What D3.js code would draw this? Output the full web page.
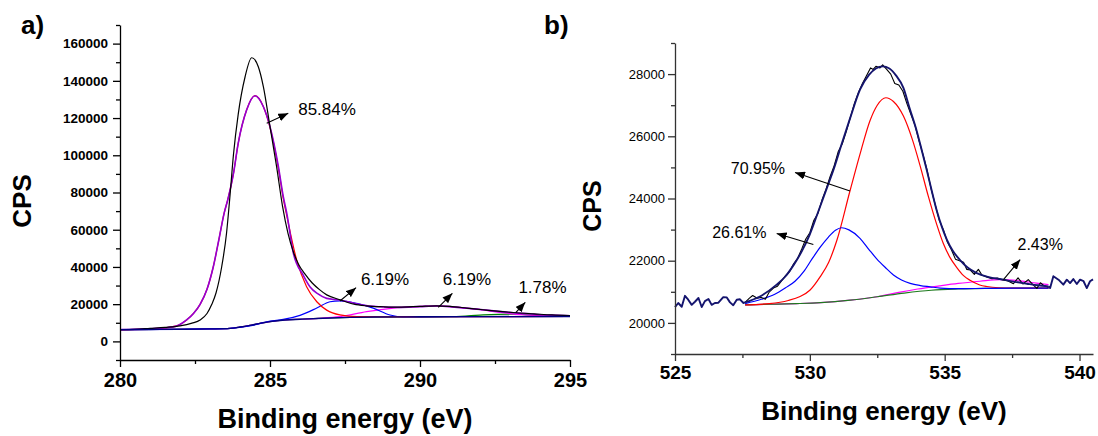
<!DOCTYPE html>
<html>
<head>
<meta charset="utf-8">
<script src="https://cdn.jsdelivr.net/npm/d3@7"></script>
<style>
  body { margin: 0; background: #fff; }
  svg { display: block; }
  text { font-family: "Liberation Sans", Arial, Helvetica, sans-serif; fill: #000; }
</style>
</head>
<body>
<svg id="chart" width="1098" height="436"></svg>
<script>
// ---------- a) C 1s region : [binding energy (eV), CPS] ----------
const c1sMeasured = [
  [280.0,6300],[280.5,6500],[281.0,7000],[281.5,7500],[282.0,8300],[282.4,9800],
  [282.67,11500],[282.9,15000],[283.06,19900],[283.2,26000],[283.39,40100],[283.55,58000],
  [283.67,79000],[283.78,100000],[283.94,122000],[284.17,142200],[284.39,152400],[284.61,147600],
  [284.78,136800],[285.0,115400],[285.22,93900],[285.42,72400],[285.6,58000],[285.78,48000],
  [285.95,41500],[286.15,36500],[286.4,31500],[286.65,27800],[286.89,25000],[287.33,22400],
  [287.8,20000],[288.2,19100],[288.8,18600],[289.3,18400],[290.0,18800],[290.55,19100],
  [291.0,18800],[291.56,17900],[292.1,17000],[292.67,16100],[293.2,15400],[293.8,14800],
  [294.4,14200],[295.0,13800]
];
const c1sEnvelope = [
  [280.0,6300],[281.0,6800],[281.5,7300],[281.89,8300],[282.22,11500],[282.45,15000],
  [282.67,19900],[282.9,28000],[283.11,40100],[283.3,55000],[283.47,68800],[283.59,76000],
  [283.78,90000],[283.94,106400],[284.22,124300],[284.5,132000],[284.78,126100],[285.0,115400],
  [285.28,93900],[285.44,78000],[285.56,68800],[285.78,47300],[286.11,35500],[286.33,29400],
  [286.6,25500],[286.89,23100],[287.33,22200],[287.8,20500],[288.2,19300],[288.8,18500],
  [289.3,18300],[290.0,18700],[290.55,19000],[291.0,18700],[291.56,17800],[292.1,17000],
  [292.67,16000],[293.2,15300],[293.8,14600],[294.4,14100],[295.0,13700]
];
const c1sPeakSp2 = [
  [280.0,6300],[281.0,6800],[281.5,7300],[281.89,8300],[282.22,11500],[282.45,15000],
  [282.67,19900],[282.9,28000],[283.11,40100],[283.3,55000],[283.47,68800],[283.59,76000],
  [283.78,90000],[283.94,106400],[284.22,124300],[284.5,132000],[284.78,126100],[285.0,115000],
  [285.28,93000],[285.44,77000],[285.56,67500],[285.89,43700],[286.22,29400],[286.56,21300],
  [286.89,16800],[287.33,14200],[287.89,13300],[289.0,13200],[291.0,13300],[295.0,13400]
];
const c1sPeakCO = [
  [280.0,6300],[282.0,6500],[283.0,6700],[283.67,7000],[284.33,8300],[285.0,10900],
  [285.44,11800],[286.0,14000],[286.56,17900],[287.0,21300],[287.33,21800],[287.89,20400],
  [288.44,17900],[289.0,14200],[289.44,13100],[290.0,13200],[291.0,13300],[295.0,13400]
];
const c1sPeakOCO = [
  [280.0,6300],[281.0,6400],[282.0,6500],[283.0,6700],[283.67,7000],[284.0,7700],
  [284.33,8600],[284.7,9800],[285.0,10600],[285.5,11500],[286.0,11900],[286.6,12400],
  [287.33,13300],[288.22,16000],[289.11,17900],[289.89,18700],[290.56,19100],[291.22,18400],
  [291.89,17300],[292.67,15600],[293.44,14300],[294.33,13600],[295.0,13450]
];
const c1sPeakSat = [
  [280.0,6300],[281.0,6400],[282.0,6500],[283.0,6700],[283.67,7000],[284.0,7700],
  [284.33,8600],[284.7,9800],[285.0,10600],[285.5,11500],[286.0,11900],[287.0,12600],
  [287.67,12900],[288.5,13100],[290.0,13200],[291.0,13300],[291.6,13700],[292.11,14200],
  [292.6,14500],[293.0,14600],[293.4,14450],[293.78,14200],[294.4,13800],[295.0,13400]
];
const c1sBackground = [
  [280.0,6300],[281.0,6400],[282.0,6500],[283.0,6700],[283.67,7000],[284.0,7700],
  [284.33,8600],[284.7,9800],[285.0,10600],[285.5,11500],[286.0,11900],[287.0,12600],
  [287.67,12900],[288.5,13100],[290.0,13200],[292.0,13300],[295.0,13400]
];
const c1sLabels = ["85.84%", "6.19%", "6.19%", "1.78%"];
// label anchor, arrow tail and arrow head, in [eV, CPS]
const c1sLabelAt = [[285.94,121600],[288.03,30300],[290.76,30300],[293.28,26160]];
const c1sArrowFrom = [[284.89,117200],[287.33,21700],[290.61,18300],[293.19,15400]];
const c1sArrowTo = [[285.61,122550],[287.87,28850],[291.08,25840],[293.51,21000]];
const c1sXTicks = [280, 285, 290, 295];
const c1sXMinor = [282.5, 287.5, 292.5];
const c1sYTicks = [0, 20000, 40000, 60000, 80000, 100000, 120000, 140000, 160000];
const c1sYMinor = [-10000, 10000, 30000, 50000, 70000, 90000, 110000, 130000, 150000, 170000];

// ---------- b) O 1s region : [binding energy (eV), CPS] ----------
const o1sNoiseLow = [
  [525.0,20510],[525.12,20640],[525.25,20520],[525.37,20870],[525.49,20745],[525.62,20580],
  [525.74,20680],[525.87,20800],[525.99,20510],[526.11,20700],[526.24,20770],[526.36,20580],
  [526.48,20640],[526.61,20650],[526.79,20830],[526.92,20820],[527.04,20660],[527.16,20570],
  [527.29,20745],[527.41,20760],[527.53,20640],[527.6,20660]
];
const o1sNoiseHigh = [
  [538.85,21175],[538.91,21120],[539.03,21500],[539.22,21390],[539.4,21230],[539.53,21390],
  [539.65,21280],[539.77,21410],[539.9,21250],[540.02,21390],[540.15,21340],[540.27,21120],
  [540.39,21340],[540.5,21400]
];
const o1sMeasured = [
  [527.6,20660],[527.75,20790],[527.88,20880],[528.05,20790],[528.2,20820],[528.35,20760],
  [528.5,21000],[528.65,21120],[528.8,21180],[528.95,21350],[529.1,21520],[529.25,21650],
  [529.4,21900],[529.55,22080],[529.7,22380],[529.85,22700],[530.0,22900],[530.15,23300],
  [530.3,23520],[530.45,23950],[530.6,24300],[530.75,24700],[530.9,25050],[531.05,25500],
  [531.2,25750],[531.35,26150],[531.5,26600],[531.65,27050],[531.8,27400],[531.95,27700],
  [532.1,27950],[532.25,28200],[532.35,28150],[532.45,28250],[532.6,28200],[532.7,28300],
  [532.85,28150],[533.0,28000],[533.15,27700],[533.3,27650],[533.45,27450],[533.6,27050],
  [533.75,26700],[533.9,26350],[534.05,25850],[534.2,25400],[534.35,24900],[534.5,24300],
  [534.65,23800],[534.8,23300],[534.95,23000],[535.1,22600],[535.25,22350],[535.4,22050],
  [535.55,22000],[535.7,21950],[535.82,21720],[535.95,21700],[536.1,21560],[536.25,21720],
  [536.38,21540],[536.55,21480],[536.75,21420],[536.95,21440],[537.15,21380],[537.35,21350],
  [537.55,21260],[537.72,21450],[537.9,21250],[538.1,21390],[538.28,21220],[538.42,21110],
  [538.55,21290],[538.68,21200],[538.85,21150]
];
const o1sEnvelope = [
  [527.6,20660],[528.15,20850],[528.77,21230],[529.1,21500],[529.39,21850],[529.7,22300],
  [530.0,22850],[530.3,23550],[530.63,24330],[530.9,24980],[531.18,25750],[531.5,26600],
  [531.86,27500],[532.2,27980],[532.45,28180],[532.7,28250],[532.95,28180],[533.2,27950],
  [533.47,27560],[533.7,26900],[533.96,26180],[534.15,25550],[534.34,24900],[534.52,24250],
  [534.71,23600],[534.9,23080],[535.08,22680],[535.3,22320],[535.57,22020],[535.85,21780],
  [536.19,21600],[536.6,21480],[537.18,21390],[537.6,21320],[538.05,21260],[538.45,21210],
  [538.85,21175]
];
const o1sPeakLattice = [
  [527.6,20580],[528.5,20620],[529.2,20720],[529.64,20850],[530.0,21050],[530.38,21480],
  [530.7,21950],[531.0,22650],[531.49,24250],[531.9,25550],[532.23,26500],[532.5,27000],
  [532.82,27240],[533.1,27120],[533.47,26650],[533.8,25900],[534.09,25050],[534.4,24050],
  [534.71,23150],[534.95,22550],[535.2,22100],[535.45,21780],[535.7,21520],[535.94,21370],
  [536.3,21220],[536.56,21170],[537.0,21130],[537.5,21120],[538.85,21120]
];
const o1sPeakHydroxyl = [
  [527.6,20620],[528.2,20760],[528.7,20920],[529.1,21130],[529.45,21340],[529.8,21680],
  [530.07,22040],[530.4,22450],[530.69,22760],[530.95,22980],[531.18,23060],[531.45,22990],
  [531.86,22720],[532.2,22350],[532.48,22060],[532.8,21780],[533.1,21540],[533.4,21380],
  [533.72,21270],[534.1,21200],[534.46,21160],[534.83,21120],[535.5,21100],[536.5,21110],
  [538.85,21120]
];
const o1sPeakWater = [
  [527.6,20580],[528.5,20600],[529.5,20620],[530.4,20650],[531.5,20730],[532.5,20840],
  [533.35,20990],[534.0,21090],[534.8,21190],[535.5,21270],[536.31,21340],[537.05,21390],
  [537.8,21350],[538.4,21280],[538.85,21230]
];
const o1sBackground = [
  [527.6,20580],[528.5,20600],[529.5,20620],[530.4,20650],[531.5,20730],[532.5,20840],
  [533.5,20960],[534.5,21050],[535.5,21090],[536.5,21110],[537.5,21120],[538.85,21120]
];
const o1sLabels = ["70.95%", "26.61%", "2.43%"];
const o1sLabelAt = [[527.07,24784],[526.38,22716],[537.70,22360]];
const o1sArrowFrom = [[531.49,24244],[530.13,22522],[537.18,21391]];
const o1sArrowTo = [[529.45,24839],[528.77,22877],[537.80,22037]];
const o1sXTicks = [525, 530, 535, 540];
const o1sXMinor = [527.5, 532.5, 537.5];
const o1sYTicks = [20000, 22000, 24000, 26000, 28000];
const o1sYMinor = [19000, 21000, 23000, 25000, 27000, 29000];

// ---------- drawing ----------
const svg = d3.select("#chart");
const defs = svg.append("defs");
defs.append("marker")
  .attr("id", "arrowhead")
  .attr("viewBox", "0 0 10 8")
  .attr("refX", 10).attr("refY", 4)
  .attr("markerUnits", "userSpaceOnUse")
  .attr("markerWidth", 10).attr("markerHeight", 8)
  .attr("orient", "auto")
  .append("path").attr("d", "M0,0 L10,4 L0,8 Z").attr("fill", "#000");

function drawPanel(p) {
  const g = svg.append("g");
  const x = p.x, y = p.y;

  // curves
  p.curves.forEach(c => {
    const line = d3.line()
      .x(d => x(d[0])).y(d => y(d[1]))
      .curve(c.smooth ? d3.curveMonotoneX : d3.curveLinear);
    g.append("path")
      .datum(c.data)
      .attr("d", line)
      .attr("fill", "none")
      .attr("stroke", c.color)
      .attr("stroke-width", c.width)
      .attr("stroke-linejoin", "round");
  });

  // axes
  const xMajor = d3.axisBottom(x).tickValues(p.xTicks).tickSize(7).tickSizeOuter(0)
    .tickPadding(p.xPad).tickFormat(d3.format("d"));
  const xMinor = d3.axisBottom(x).tickValues(p.xMinor).tickSize(4).tickSizeOuter(0).tickFormat("");
  const yMajor = d3.axisLeft(y).tickValues(p.yTicks).tickSize(7).tickSizeOuter(0)
    .tickPadding(p.yPad).tickFormat(d3.format("d"));
  const yMinor = d3.axisLeft(y).tickValues(p.yMinor).tickSize(4).tickSizeOuter(0).tickFormat("");

  const x0 = x.range()[0], yBase = y.range()[0];
  const gx = g.append("g").attr("transform", `translate(0,${yBase})`);
  gx.append("g").call(xMinor).call(s => s.select(".domain").remove());
  gx.append("g").call(xMajor)
    .attr("font-size", p.xFont).attr("font-weight", "bold")
    .attr("font-family", '"Liberation Sans", Arial, sans-serif');
  const gy = g.append("g").attr("transform", `translate(${x0},0)`);
  gy.append("g").call(yMinor).call(s => s.select(".domain").remove());
  gy.append("g").call(yMajor)
    .attr("font-size", p.yFont).attr("font-weight", p.yWeight)
    .attr("font-family", '"Liberation Sans", Arial, sans-serif');
  g.selectAll(".domain, .tick line").attr("stroke", p.axisColor).attr("stroke-width", 1.3);
  g.selectAll(".tick text").attr("fill", "#000");

  // axis titles and panel tag
  g.append("text")
    .attr("transform", `translate(${p.yTitle[0]},${p.yTitle[1]}) rotate(-90)`)
    .attr("text-anchor", "middle").attr("dy", "0.35em")
    .attr("font-size", p.yTitleSize).attr("font-weight", "bold").text("CPS");
  g.append("text")
    .attr("x", p.xTitle[0]).attr("y", p.xTitle[1])
    .attr("text-anchor", "middle")
    .attr("font-size", p.xTitleSize).attr("font-weight", "bold").text("Binding energy (eV)");
  g.append("text")
    .attr("x", p.tag[0]).attr("y", p.tag[1])
    .attr("font-size", 26).attr("font-weight", "bold").text(p.tagText);

  // peak share annotations
  p.labels.forEach((t, i) => {
    g.append("line")
      .attr("x1", x(p.from[i][0])).attr("y1", y(p.from[i][1]))
      .attr("x2", x(p.to[i][0])).attr("y2", y(p.to[i][1]))
      .attr("stroke", "#000").attr("stroke-width", 1.1)
      .attr("marker-end", "url(#arrowhead)");
    g.append("text")
      .attr("x", x(p.at[i][0])).attr("y", y(p.at[i][1]))
      .attr("font-size", p.labelSize).text(t);
  });
}

drawPanel({
  x: d3.scaleLinear().domain([280, 295]).range([120, 570]),
  y: d3.scaleLinear().domain([-10000, 170000]).range([360, 25]),
  curves: [
    { data: c1sPeakSat, color: "#008000", width: 1.2, smooth: true },
    { data: c1sPeakOCO, color: "#ff00ff", width: 1.2, smooth: true },
    { data: c1sPeakCO, color: "#0000ff", width: 1.2, smooth: true },
    { data: c1sPeakSp2, color: "#ff0000", width: 1.2, smooth: true },
    { data: c1sEnvelope, color: "#9400d3", width: 1.6, smooth: true },
    { data: c1sMeasured, color: "#000000", width: 1.2, smooth: true },
    { data: c1sBackground, color: "#000080", width: 1.4, smooth: true }
  ],
  xTicks: c1sXTicks, xMinor: c1sXMinor, yTicks: c1sYTicks, yMinor: c1sYMinor,
  xPad: 6, yPad: 5, xFont: 20, yFont: 13.5, yWeight: "bold", axisColor: "#000",
  yTitle: [22, 201], yTitleSize: 26,
  xTitle: [345, 428], xTitleSize: 27,
  tag: [21, 34], tagText: "a)",
  labels: c1sLabels, at: c1sLabelAt, from: c1sArrowFrom, to: c1sArrowTo, labelSize: 17
});

drawPanel({
  x: d3.scaleLinear().domain([525, 540.5]).range([675, 1093]),
  y: d3.scaleLinear().domain([19000, 29000]).range([354, 43]),
  curves: [
    { data: o1sPeakWater, color: "#ff00ff", width: 1.2, smooth: true },
    { data: o1sBackground, color: "#1e7a1e", width: 1.2, smooth: true },
    { data: o1sPeakLattice, color: "#ff0000", width: 1.2, smooth: true },
    { data: o1sPeakHydroxyl, color: "#0000ff", width: 1.2, smooth: true },
    { data: o1sMeasured, color: "#000000", width: 1.1, smooth: false },
    { data: o1sNoiseLow, color: "#14146e", width: 1.9, smooth: false },
    { data: o1sNoiseHigh, color: "#14146e", width: 1.9, smooth: false },
    { data: o1sEnvelope, color: "#14146e", width: 1.9, smooth: true }
  ],
  xTicks: o1sXTicks, xMinor: o1sXMinor, yTicks: o1sYTicks, yMinor: o1sYMinor,
  xPad: 5, yPad: 3, xFont: 19, yFont: 13, yWeight: "normal", axisColor: "#333",
  yTitle: [592, 206], yTitleSize: 25,
  xTitle: [884, 420], xTitleSize: 26,
  tag: [544, 34], tagText: "b)",
  labels: o1sLabels, at: o1sLabelAt, from: o1sArrowFrom, to: o1sArrowTo, labelSize: 16
});
</script>
</body>
</html>
